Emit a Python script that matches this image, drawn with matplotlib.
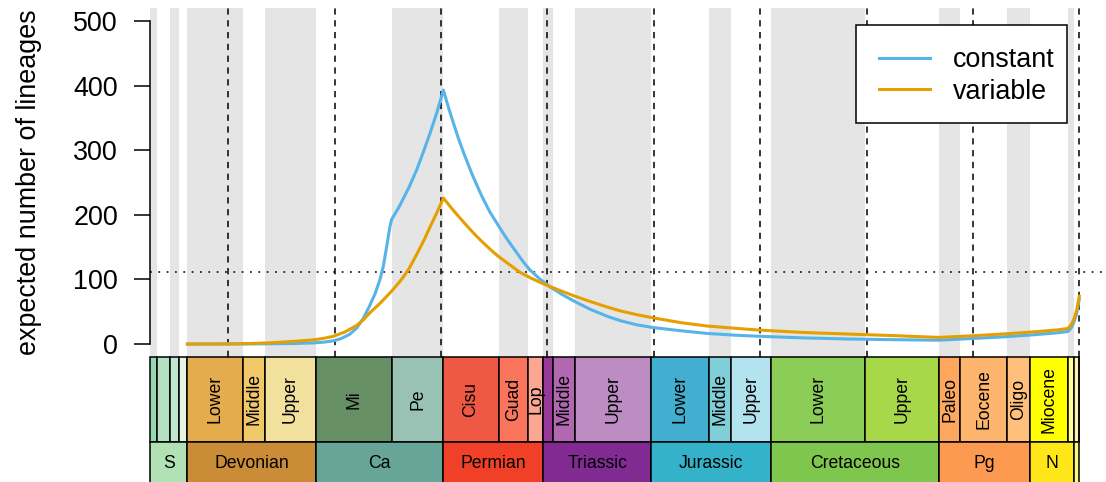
import matplotlib
matplotlib.use("Agg")
import matplotlib.pyplot as plt
from matplotlib.patches import Rectangle

plt.rcParams['font.family'] = ['Liberation Sans', 'DejaVu Sans']
plt.rcParams['lines.scale_dashes'] = False

# ---- geological time scale (Ma) ----
epoch_names = ["", "", "", "", "Lower", "Middle", "Upper", "Mi", "Pe",
               "Cisu", "Guad", "Lop", "", "Middle", "Upper",
               "Lower", "Middle", "Upper", "Lower", "Upper",
               "Paleo", "Eocene", "Oligo", "Miocene", "", "", ""]
epoch_start = [443.8, 433.4, 427.4, 423.0, 419.2, 393.3, 382.7, 358.9, 323.2,
               298.9, 272.95, 259.1, 251.9, 247.2, 237.0,
               201.3, 174.1, 163.5, 145.0, 100.5,
               66.0, 56.0, 33.9, 23.03, 5.333, 2.58, 0.0117]
epoch_colors = ["#99D7B3", "#B3E1C2", "#BFE6CF", "#E6F5E1",
                "#E5AC4D", "#F1C868", "#F1E19D", "#678F66", "#99C2B5",
                "#EF5845", "#FB745C", "#FBA794", "#983999", "#B168B1", "#BD8CC3",
                "#42AED0", "#80CFD8", "#B3E3EE", "#8CCD57", "#A6D84A",
                "#FDA75F", "#FDB46C", "#FEC07A", "#FFFF00", "#FFFF99", "#FFF2AE", "#FEF2E0"]

period_names = ["S", "Devonian", "Ca", "Permian", "Triassic", "Jurassic",
                "Cretaceous", "Pg", "N", ""]
period_start = [443.8, 419.2, 358.9, 298.9, 251.9, 201.3, 145.0, 66.0, 23.03, 2.58]
period_colors = ["#B3E1B6", "#CB8C37", "#67A599", "#F04028", "#812B92", "#34B2C9",
                 "#7FC64E", "#FD9A52", "#FFE619", "#F9F97F"]

# ---- expected number of lineages through time ----
age_constant = [419.2, 390, 370, 360, 355, 350.6, 347, 343, 339.6, 336.5, 333.6, 331,
                328.7, 327.1, 325.5, 324.0, 323.2, 321, 319.3, 315, 311.4, 308, 305.2,
                302, 298.9, 296.5, 294.2, 291.8, 289.5, 287, 284.8, 281, 277, 272.4,
                269.1, 265, 261.3, 258.3, 253.5, 248.8, 243, 237.8, 230, 222.1, 215.9,
                208, 200.2, 187, 175.1, 162, 150.1, 130, 107.8, 85, 66, 49.8, 33.9,
                23, 10, 5.3, 3.6, 2.4, 1.2, 0]
constant = [0, 0.2, 0.8, 1.8, 3, 5, 8.5, 15, 25, 40, 59, 78,
            100, 121, 152, 182, 193, 205, 215, 243, 270, 300, 326,
            358, 393, 366, 342, 318, 297, 276, 258, 230, 204, 180,
            163, 144, 127, 115, 100.5, 88.5, 76.5, 67, 54, 43.3, 36.3,
            29.8, 25.5, 20.5, 16.5, 13.8, 12, 9.6, 7.8, 6.7, 6, 8.7, 11.5,
            14, 17.5, 19.5, 26, 35, 48, 70]

age_variable = [419.2, 400, 390, 380, 370, 360, 355, 350.6, 345, 339.6, 336.5, 333.6,
                328.7, 325.5, 323.2, 319.3, 317.7, 315, 311.4, 308, 305.2, 302, 298.9,
                295, 291.1, 288, 284.8, 281.5, 278.5, 275.5, 272.4, 267, 262.9, 258,
                253.5, 248.8, 243, 237.8, 230, 222.1, 215.9, 208, 200.2, 187, 175.1,
                162, 150.1, 130, 107.8, 85, 66, 49.8, 33.9, 23, 10, 5.3, 3.6, 2.4, 1.2, 0]
variable = [0, 0.3, 0.8, 2, 4, 6.5, 9, 12, 19, 29, 37.5, 48,
            63, 74, 82, 97, 104, 117, 139, 161, 181, 203, 226,
            210, 195, 183.5, 172, 161, 151.5, 142.5, 134, 121, 111, 102.5,
            95.5, 89, 81.5, 75, 66, 57.5, 51.5, 45.5, 40.5, 33, 28,
            24.5, 21.6, 18, 15.4, 12.8, 10.3, 12.9, 16, 18.5, 22, 24.2, 31, 40, 53, 74]

reference_level = 111
guide_ages = [400, 350, 300, 250, 200, 150, 100, 50, 0]

W, H = 1106, 482
fig = plt.figure(figsize=(W / 100, H / 100), dpi=100)

x_left_px, x_right_px = 150, 1106
plot_top_px, plot_bot_px = 8, 357
ts_bot_px = 482
xlim = (436.8, -12.55)

ax = fig.add_axes([x_left_px / W, (H - plot_bot_px) / H,
                   (x_right_px - x_left_px) / W, (plot_bot_px - plot_top_px) / H])
ax.set_xlim(*xlim)
ax.set_ylim(-20, 520)

# alternating epoch shading
for i, s in enumerate(epoch_start):
    e = epoch_start[i + 1] if i + 1 < len(epoch_start) else 0.0
    if i % 2 == 0:
        ax.axvspan(s, e, color="#E5E5E5", lw=0, zorder=0)

for a in guide_ages:
    ax.axvline(a, color="black", lw=1.1, linestyle=(0, (4.5, 4.0)), zorder=1)
ax.axhline(reference_level, color="black", lw=1.1, linestyle=(0, (1.3, 4.7)), zorder=1)

ax.plot(age_constant, constant, color="#56B4E9", lw=2.2, label="constant", zorder=3,
        solid_joinstyle="round")
ax.plot(age_variable, variable, color="#E69F00", lw=2.2, label="variable", zorder=3,
        solid_joinstyle="round")

for side in ("top", "right", "bottom"):
    ax.spines[side].set_visible(False)
ax.spines["left"].set_bounds(0, 500)
ax.spines["left"].set_linewidth(1.1)
ax.set_xticks([])
ax.set_yticks([0, 100, 200, 300, 400, 500])
ax.tick_params(axis="y", length=11.5, width=1.1, pad=11.5, labelsize=19.4)
ax.patch.set_alpha(0)

fig.text(29 / W, 1 - ((plot_top_px + plot_bot_px) / 2) / H, "expected number of lineages",
         rotation=90, ha="center", va="center", fontsize=19.4)

# legend: entries from the plotted lines, frame drawn as a plain box behind them
box_l, box_r, box_t, box_b = 856, 1067, 25, 122.7
ax.add_patch(Rectangle((box_l / W, 1 - box_b / H), (box_r - box_l) / W,
                       (box_b - box_t) / H, transform=fig.transFigure,
                       facecolor="white", edgecolor="black", lw=1.1, zorder=5,
                       clip_on=False))
leg = ax.legend(loc="center left",
                bbox_to_anchor=(879 / W, 1 - ((box_t + box_b) / 2 + 2) / H),
                bbox_transform=fig.transFigure, fontsize=19.4, frameon=False,
                borderpad=0, handlelength=1.9, handletextpad=0.85, labelspacing=0.2,
                borderaxespad=0)
leg.set_zorder(6)

# ---- time scale panel ----
ts = fig.add_axes([x_left_px / W, 0, (x_right_px - x_left_px) / W, (ts_bot_px - plot_bot_px) / H])
ts.set_xlim(*xlim)
ts.set_ylim(ts_bot_px, plot_bot_px)
ts.axis("off")

row1_top, row1_bot, row2_bot = 357, 441.7, 485
xmin = xlim[0]

def draw_row(starts, colors, names, top, bot, fs, rot):
    for i, s in enumerate(starts):
        e = starts[i + 1] if i + 1 < len(starts) else 0.0
        s_c = min(s, xmin)
        ts.add_patch(Rectangle((e, top), s_c - e, bot - top, facecolor=colors[i],
                               edgecolor="black", lw=1.1, clip_on=False))
        if names[i]:
            ts.text((s_c + e) / 2, (top + bot) / 2, names[i], rotation=rot,
                    ha="center", va="center", fontsize=fs, clip_on=False)

draw_row(epoch_start, epoch_colors, epoch_names, row1_top, row1_bot, 12.7, 90)
draw_row(period_start, period_colors, period_names, row1_bot, row2_bot, 12.7, 0)

fig.savefig("out.png", dpi=100)
